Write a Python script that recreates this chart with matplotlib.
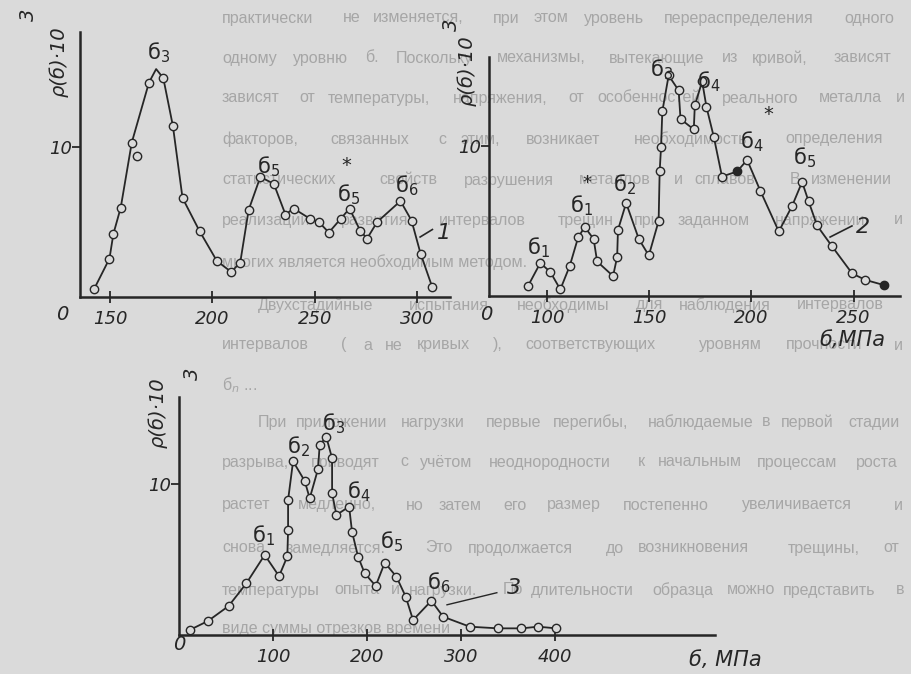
import matplotlib
matplotlib.use("Agg")
import matplotlib.pyplot as plt

W, H = 912, 674
PAGE = "#dadada"
INK = "#262626"
TXT = "#a6a6a6"

plt.rcParams["font.family"] = ["DejaVu Sans"]
plt.rcParams["mathtext.fontset"] = "dejavusans"

# ---- curve 1 ----
p1_x = [142.3, 149.7, 151.6, 155.2, 160.6, 163.0, 169.0, 176.0, 180.7, 185.4, 193.7,
        202.2, 209.2, 213.6, 217.7, 223.4, 230.0, 235.7, 239.7, 247.9, 252.0, 256.9,
        262.6, 267.0, 272.3, 275.6, 280.5, 291.9, 297.3, 301.7, 307.4]
p1_y = [0.56, 2.56, 4.2, 5.96, 10.3, 9.4, 14.3, 14.6, 11.4, 6.6, 4.4,
        2.4, 1.67, 2.3, 5.8, 8.0, 7.55, 5.5, 5.9, 5.2, 5.0, 4.3,
        5.2, 5.9, 4.4, 3.9, 5.0, 6.4, 5.1, 2.9, 0.67]
p1_off = [5]                      # point drawn beside the curve
p1_peak_x = [172.5]
p1_peak_y = [15.2]
p1_xticks = [150, 200, 250, 300]

# ---- curve 2 ----
p2_x = [90.7, 96.7, 101.6, 106.5, 111.1, 115.2, 118.4, 122.8, 124.5, 132.3, 134.3,
        134.7, 138.7, 144.9, 149.8, 154.6, 155.1, 155.8, 156.4, 159.5, 164.4, 165.3,
        171.8, 172.3, 175.9, 178.0, 181.6, 185.6, 193.0, 197.9, 204.4, 213.4, 219.9,
        224.8, 228.0, 232.1, 239.5, 249.3, 255.8, 264.8]
p2_y = [0.67, 2.2, 1.6, 0.44, 2.0, 3.9, 4.6, 3.8, 2.3, 1.33, 2.6,
        4.4, 6.2, 3.8, 2.7, 5.0, 8.3, 9.96, 12.3, 14.7, 13.7, 11.8,
        11.1, 12.7, 14.3, 12.6, 10.6, 7.96, 8.3, 9.07, 7.0, 4.3, 6.0,
        7.6, 6.3, 4.7, 3.3, 1.5, 1.07, 0.73]
p2_filled = [28, 39]
p2_xticks = [100, 150, 200, 250]

# ---- curve 3 ----
p3_x = [11.3, 30.9, 52.8, 71.6, 91.1, 106.4, 115.2, 116.0, 116.0, 121.3, 133.7,
        139.0, 147.9, 149.6, 156.7, 162.8, 162.8, 167.4, 180.9, 184.0, 190.4, 197.5,
        209.2, 218.8, 231.2, 241.1, 248.9, 268.4, 280.9, 309.2, 339.4, 364.2, 381.9, 401.4]
p3_y = [0.33, 0.93, 1.92, 3.42, 5.3, 3.9, 5.2, 6.95, 8.94, 11.5, 10.2,
        9.05, 11.0, 12.6, 13.1, 11.7, 9.38, 7.95, 8.5, 6.84, 5.19, 4.08,
        3.25, 4.79, 3.86, 2.54, 0.99, 2.27, 1.21, 0.55, 0.44, 0.44, 0.55, 0.44]
p3_xticks = [100, 200, 300, 400]

# peak labels: (text, x, y) in data units of each panel
p1_labels = [("б$_3$", 168.0, 16.3), ("б$_5$", 221.8, 8.7), ("б$_5$", 260.9, 6.8),
             ("б$_6$", 289.2, 7.4)]
p2_labels = [("б$_1$", 90.2, 3.2), ("б$_1$", 111.3, 6.05), ("б$_2$", 132.3, 7.4),
             ("б$_3$", 150.4, 15.1), ("б$_4$", 173.4, 14.3), ("б$_4$", 194.4, 10.3),
             ("б$_5$", 220.4, 9.2)]
p3_labels = [("б$_1$", 77.7, 6.6), ("б$_2$", 115.0, 12.5), ("б$_3$", 152.0, 14.0),
             ("б$_4$", 178.7, 9.5), ("б$_5$", 213.8, 6.2), ("б$_6$", 263.8, 3.45)]

# page text behind the figures
page_lines = [
    "практически не изменяется, при этом уровень перераспределения одного",
    "одному уровню б. Поскольку механизмы, вытекающие из кривой, зависят",
    "зависят от температуры, напряжения, от особенностей реального металла и",
    "факторов, связанных с этим, возникает необходимость определения",
    "статистических свойств разрушения металлов и сплавов. В изменении",
    "реализации развития интервалов трещин при заданном напряжении и",
    "многих является необходимым методом.",
    "Двухстадийные испытания необходимы для наблюдения интервалов",
    "интервалов ( а не кривых ), соответствующих уровням прочности и",
    "б$_n$ ...",
    "При приложении нагрузки первые перегибы, наблюдаемые в первой стадии",
    "разрыва, приводят с учётом неоднородности к начальным процессам роста",
    "растет медленно, но затем его размер постепенно увеличивается и",
    "снова замедляется. Это продолжается до возникновения трещины, от",
    "температуры опыта и нагрузки. По длительности образца можно представить в",
    "виде суммы отрезков времени",
]
page_y = [18, 58, 98, 139, 180, 220, 262, 305, 345, 385, 422, 462, 505, 548, 590, 628]
page_x0 = [222, 222, 222, 222, 222, 222, 222, 258, 222, 222, 258, 222, 222, 222, 222, 222]
page_just = [1, 1, 1, 1, 1, 1, 0, 1, 1, 0, 1, 1, 1, 1, 1, 0]

fig = plt.figure(figsize=(W / 100, H / 100), dpi=100, facecolor=PAGE)
bg = fig.add_axes([0, 0, 1, 1], zorder=0)
bg.set_xlim(0, W)
bg.set_ylim(H, 0)
bg.axis("off")

for line, y, x0, just in zip(page_lines, page_y, page_x0, page_just):
    kw = dict(fontsize=11.5, color=TXT, va="center", ha="left", family="Liberation Sans")
    if not just:
        bg.text(x0, y, line, **kw)
        continue
    words = line.split()
    n = sum(len(w) for w in words) + len(words) - 1
    pos = 0
    for w in words:
        bg.text(x0 + (905 - x0) * pos / n, y, w, **kw)
        pos += len(w) + 1


def panel(left, right, bottom, top, xlim, ylim, xticks):
    ax = fig.add_axes([left / W, 1 - bottom / H, (right - left) / W, (bottom - top) / H],
                      zorder=2)
    ax.patch.set_alpha(0)
    ax.set_xlim(*xlim)
    ax.set_ylim(*ylim)
    for s in ("top", "right"):
        ax.spines[s].set_visible(False)
    for s in ("left", "bottom"):
        ax.spines[s].set_color(INK)
        ax.spines[s].set_linewidth(1.8)
    ax.set_xticks(xticks)
    ax.set_xticklabels([str(t) for t in xticks], fontsize=13, style="italic", color=INK)
    ax.set_yticks([10])
    ax.set_yticklabels(["10"], fontsize=13, style="italic", color=INK)
    ax.tick_params(axis="x", direction="inout", length=9, width=1.3, color=INK, pad=5)
    ax.tick_params(axis="y", direction="out", length=6, width=1.3, color=INK, pad=0)
    return ax


def draw_curve(ax, lx, ly, mx, my, filled=()):
    ax.plot(lx, ly, color=INK, lw=1.3, zorder=3, clip_on=False)
    for i, (x, y) in enumerate(zip(mx, my)):
        fc = INK if i in filled else PAGE
        ax.plot(x, y, "o", ms=6, mew=1.0, mec=INK, mfc=fc, zorder=4, clip_on=False)


def put_labels(ax, labels):
    for t, x, y in labels:
        ax.text(x, y, t, fontsize=15, color=INK, ha="left", va="center", zorder=5)


# panel 1
ax1 = panel(80, 450, 297, 32, (135.3, 316.1), (0, 17.67), p1_xticks)
l1 = sorted([(x, y) for i, (x, y) in enumerate(zip(p1_x, p1_y)) if i not in p1_off]
            + list(zip(p1_peak_x, p1_peak_y)))
draw_curve(ax1, [p[0] for p in l1], [p[1] for p in l1], p1_x, p1_y)
put_labels(ax1, p1_labels)
ax1.text(265.5, 8.8, "*", fontsize=14, color=INK, ha="center", va="center")
ax1.plot([301.5, 307.5], [4.0, 4.5], color=INK, lw=1.2)
ax1.text(309.5, 4.3, "1", fontsize=16, style="italic", color=INK, va="center")

# panel 2
ax2 = panel(489, 900, 296, 57, (71.6, 272.7), (0, 15.93), p2_xticks)
draw_curve(ax2, p2_x, p2_y, p2_x, p2_y, p2_filled)
put_labels(ax2, p2_labels)
ax2.text(119.6, 7.5, "*", fontsize=13, color=INK, ha="center", va="center")
ax2.text(208.1, 12.1, "*", fontsize=14, color=INK, ha="center", va="center")
ax2.plot([238.5, 249.2], [3.93, 4.67], color=INK, lw=1.2)
ax2.text(251.0, 4.6, "2", fontsize=16, style="italic", color=INK, va="center")

# panel 3
ax3 = panel(179, 715, 635, 397, (0, 570), (0, 15.76), p3_xticks)
draw_curve(ax3, p3_x, p3_y, p3_x, p3_y)
put_labels(ax3, p3_labels)
ax3.plot([285, 338], [2.0, 2.8], color=INK, lw=1.0)
ax3.text(349, 3.1, "3", fontsize=16, style="italic", color=INK, va="center")

# axis titles and origin marks (pixel positions on the page)
lab = dict(fontsize=14, color=INK, style="italic", ha="center", va="center", zorder=5)
for x, y in [(59, 62), (467, 71), (158, 413)]:
    bg.text(x, y, "ρ(б)·10", rotation=90, **lab)
for x, y in [(28, 15), (451, 25), (192, 374)]:
    bg.text(x, y, "3", rotation=90, **lab)
for x, y in [(62, 314), (486, 314), (179, 645)]:
    bg.text(x, y, "0", **lab)
bg.text(852, 340, "б,МПа", fontsize=15, color=INK, style="italic", ha="center", va="center")
bg.text(725, 660, "б, МПа", fontsize=15, color=INK, style="italic", ha="center", va="center")

fig.savefig("out.png", dpi=100, facecolor=PAGE)
